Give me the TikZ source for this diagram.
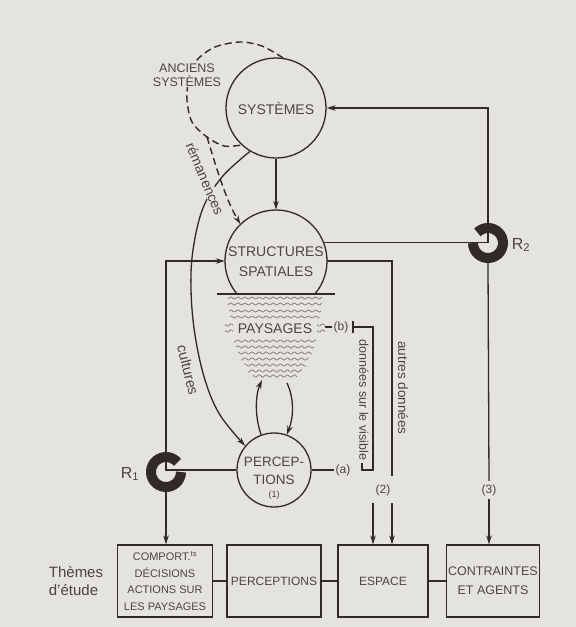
\documentclass[tikz,border=0pt]{standalone}
\usepackage{fontspec}
\setmainfont{Liberation Sans}
\usetikzlibrary{arrows.meta,calc}
\definecolor{paper}{RGB}{229,227,221}
\definecolor{ink}{RGB}{50,42,38}
\definecolor{txt}{RGB}{78,68,62}
\definecolor{wavec}{RGB}{125,115,108}
\begin{document}
\begin{tikzpicture}[x=1pt,y=-1pt,
  conn/.style={draw=ink, line width=1.3pt},
  arr/.style={conn, -{Stealth[length=9pt,width=5.5pt]}},
  circ/.style={circle, draw=ink, line width=1.3pt, text=txt, inner sep=0pt},
  bx/.style={draw=ink, line width=1.2pt, minimum height=72pt, text=txt, align=center, inner sep=1pt},
  ring/.style={draw=ink, line width=10pt},
  lbl/.style={text=txt, inner sep=1pt},
  dsh/.style={draw=ink, line width=1.4pt, dash pattern=on 7pt off 4pt},
  wave/.style={draw=wavec, line width=0.7pt}]
\fill[paper] (0,0) rectangle (576,627);
\useasboundingbox (0,0) rectangle (576,627);

% circles
\node[circ, minimum size=100pt, font=\fontsize{14}{16}\selectfont] (sys) at (276,108) {SYSTÈMES};
\node[circle, minimum size=102pt, inner sep=0pt] (str) at (276,261) {};
\draw[conn] ($(str.center)+(40.3:51)$) arc[start angle=40.3, end angle=-220.3, radius=51];
\node[text=txt, align=center, font=\fontsize{14}{20}\selectfont] (strt) at (276,262) {STRUCTURES\\SPATIALES};
\draw[conn] (217,294) -- (335,294);
\node[circ, minimum size=74pt] (perc) at (274,470) {};
\node[text=txt, align=center, font=\fontsize{13.5}{18}\selectfont] (perct) at (274,471) {PERCEP-\\TIONS};
\node[text=txt, font=\fontsize{9}{10}\selectfont] (perc1) at (274,495) {(1)};

% paysages waves
\foreach \yy/\hw in {298/47,304/47,311/46,317/45,341/41,347/39,353/37,359/34,365/31,371/27,376/22}
  \draw[wave] plot[domain=-\hw:\hw, samples=60] ({275+\x},{\yy+1.1*sin(\x*51)});
\foreach \yy in {325,331}{
  \draw[wave] plot[domain=-50:-42, samples=15] ({275+\x},{\yy+1.1*sin(\x*51)});
  \draw[wave] plot[domain=42:50, samples=15] ({275+\x},{\yy+1.1*sin(\x*51)});}
\node[text=txt, fill=paper, inner sep=1pt, font=\fontsize{14}{16}\selectfont] (pay) at (275,329) {PAYSAGES};

% anciens systemes
\draw[dsh] plot[smooth] coordinates {(sys.82) (262,46) (240,42) (215,47) (197,60) (189,78) (187,100) (192,122) (207,137) (224,146) (sys.227)};
\coordinate (rem) at (207,137);
\node[text=txt, fill=paper, align=center, inner sep=1pt, font=\fontsize{12.5}{13.5}\selectfont] (anc) at (187,75) {ANCIENS\\SYSTÈMES};
\draw[dsh, -{Stealth[length=9pt,width=5.5pt]}] (rem) .. controls (217,170) and (226,200) .. (str.134);

% cultures
\draw[arr] plot[smooth, tension=0.6] coordinates {(sys.239) (222,177) (203,208) (193,250) (191,290) (195,335) (205,380) (220,415) (perc.140)};
\node[lbl, fill=paper, inner sep=0.5pt, rotate=-67, font=\fontsize{14}{15}\selectfont] (remt) at (205,179) {rémanences};
\node[lbl, rotate=-76, font=\fontsize{14.5}{15}\selectfont] (cult) at (188,370) {cultures};

% systemes -> structures
\draw[arr] (sys.south) -- (str.north);

% boxes
\node[bx, minimum width=95pt, font=\fontsize{11}{16.5}\selectfont] (comp) at (165,581) {COMPORT.\textsuperscript{ts}\\DÉCISIONS\\ACTIONS SUR\\LES PAYSAGES};
\node[bx, minimum width=94pt, font=\fontsize{12}{14}\selectfont] (percb) at (274,581) {PERCEPTIONS};
\node[bx, minimum width=90pt, font=\fontsize{12}{14}\selectfont] (esp) at (383,581) {ESPACE};
\node[bx, minimum width=93pt, font=\fontsize{12.5}{19}\selectfont] (contr) at (493,581) {CONTRAINTES\\ET AGENTS};
\draw[conn] (comp.east) -- (percb.west);
\draw[conn] (percb.east) -- (esp.west);
\draw[conn] (esp.east) -- (contr.west);
\node[text=txt, align=left, font=\fontsize{15}{18}\selectfont] (themes) at (76,581) {Thèmes\\d'étude};

% R1 loop
\coordinate (R1) at (166,472);
\draw[arr] (perc.west) -- (perc.west -| R1) |- (str.west);
\draw[ring] ($(R1)+(-40:15)$) arc[start angle=-40, end angle=-360, radius=15];
\draw[arr] ($(R1)+(0,20)$) -- (R1 |- comp.north);
\node[text=txt, font=\fontsize{16}{18}\selectfont] (r1l) at (130,474) {R\textsubscript{1}};

% R2 loop
\coordinate (R2) at (488,243);
\draw[conn] (str.21) -- (str.21 -| R2);
\draw[arr] (R2) |- (sys.east);
\draw[ring] ($(R2)+(-180:15)$) arc[start angle=-180, end angle=-495, radius=15];
\node[text=txt, font=\fontsize{16}{18}\selectfont] (r2l) at (521,245) {R\textsubscript{2}};
\node[text=txt, font=\fontsize{12}{14}\selectfont] (l3) at (489,490) {(3)};
\draw[conn] ($(R2)+(0,20)$) -- (l3.north);
\draw[arr] (l3.south) -- (l3.south |- contr.north);

% autres donnees
\coordinate (ad) at (392,476);
\coordinate (ad2) at (392,503);
\draw[conn] (str.east) -| (ad);
\draw[arr] (ad2) -- (ad2 |- esp.north);
\node[lbl, rotate=-90, font=\fontsize{13.5}{14}\selectfont] (adl) at (403,388) {autres données};

% donnees sur le visible
\node[text=txt, font=\fontsize{12}{14}\selectfont, inner sep=1pt] (a) at (343,470) {(a)};
\node[text=txt, font=\fontsize{12}{14}\selectfont, inner sep=1pt] (b) at (341,327) {(b)};
\coordinate (ba) at (373,470);
\coordinate (bb) at (373,327);
\coordinate (va2) at (373,503);
\draw[conn] (perc.east) -- (a.west);
\draw[conn] ($(ba)+(-11,-7)$) -- ++(0,7) -- (ba) -- (bb) -- ++(-20,0) ++(0,-6) -- ++(0,12);
\draw[conn] (b.west) -- ++(-7,0);
\draw[arr] (va2) -- (va2 |- esp.north);
\node[lbl, rotate=-90, font=\fontsize{12.5}{14}\selectfont] (dvl) at (364,400) {données sur le visible};
\node[text=txt, font=\fontsize{12}{14}\selectfont] (l2) at (383,490) {(2)};

% paysages <-> perceptions
\coordinate (py1) at (262,380);
\coordinate (py2) at (287,383);
\draw[arr] (perc.110) .. controls (255,418) and (255,396) .. (py1);
\draw[arr] (py2) .. controls (294,398) and (294,416) .. (perc.70);
\end{tikzpicture}
\end{document}
